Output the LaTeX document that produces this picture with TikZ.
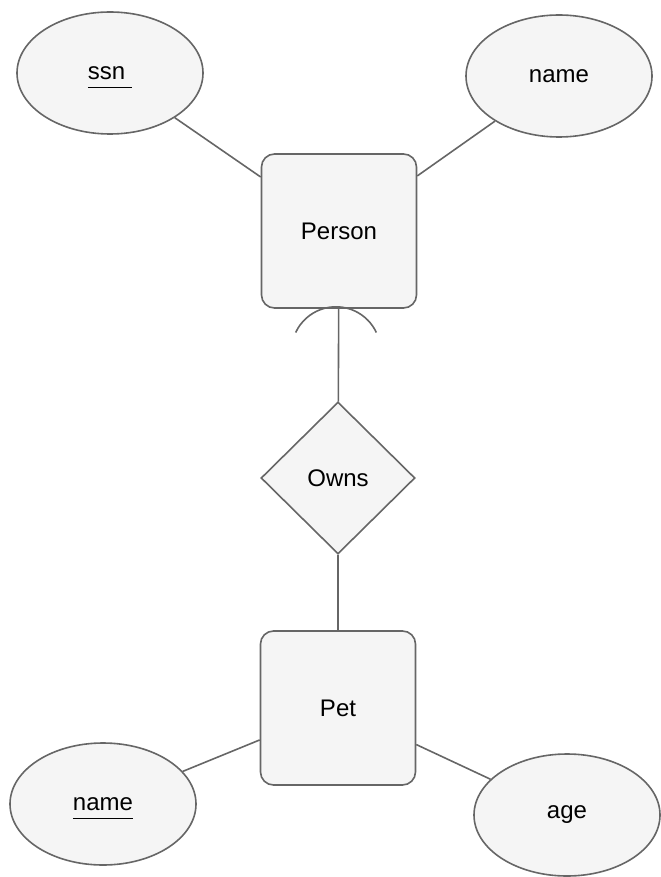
\documentclass[tikz,border=0pt]{standalone}
\usepackage{fontspec}
\setmainfont{Liberation Sans}
\usetikzlibrary{shapes.geometric}
\definecolor{erfill}{HTML}{F5F5F5}
\definecolor{erline}{HTML}{666666}
\tikzstyle{entity}  = [rectangle, fill=erfill, draw=erline, line width=0.8pt, rounded corners=6.5pt, minimum width=77.5pt, minimum height=77pt, inner sep=0pt, font=\fontsize{12}{14}\selectfont]
\tikzstyle{attrib}  = [ellipse, fill=erfill, draw=erline, line width=0.8pt, minimum width=93pt, minimum height=61pt, inner sep=0pt, font=\fontsize{12}{14}\selectfont]
\tikzstyle{relship} = [diamond, fill=erfill, draw=erline, line width=0.8pt, minimum width=77pt, minimum height=76pt, inner sep=0pt, font=\fontsize{12}{14}\selectfont]
\tikzstyle{link}    = [draw=erline, line width=0.8pt]
\def\key#1{\raisebox{0pt}[\height][0pt]{\underline{\vphantom{g}#1}}}

\begin{document}
\begin{tikzpicture}[x=0.5pt, y=-0.5pt]
    \useasboundingbox (0,0) rectangle (660,877);
    % entities and relationship
    \node[entity]  (person) at (339,231) {Person};
    \node[relship] (owns)   at (338,478) {Owns};
    \node[entity]  (pet)    at (338,708) {Pet};
    % attributes
    \node[attrib] (ssn)     at (110,73)  {\key{ssn~}};
    \node[attrib] (pname)   at (559,76)  {name};
    \node[attrib] (petname) at (103,804) {\key{name}};
    \node[attrib] (age)     at (567,815) {age};
    % links
    \draw[link] (ssn) -- (person);
    \draw[link] (pname) -- (person);
    \draw[link] (person) -- (owns);
    \draw[link] (owns) -- (pet);
    \draw[link] (petname) -- (pet);
    \draw[link] (age) -- (pet);
    % arc under Person
    \coordinate (arcc) at ([xshift=-1.5pt, yshift=-21.25pt]person.south);
    \draw[link] (arcc) ++(155:22.25pt) arc[start angle=155, end angle=25, radius=22.25pt];
\end{tikzpicture}
\end{document}
